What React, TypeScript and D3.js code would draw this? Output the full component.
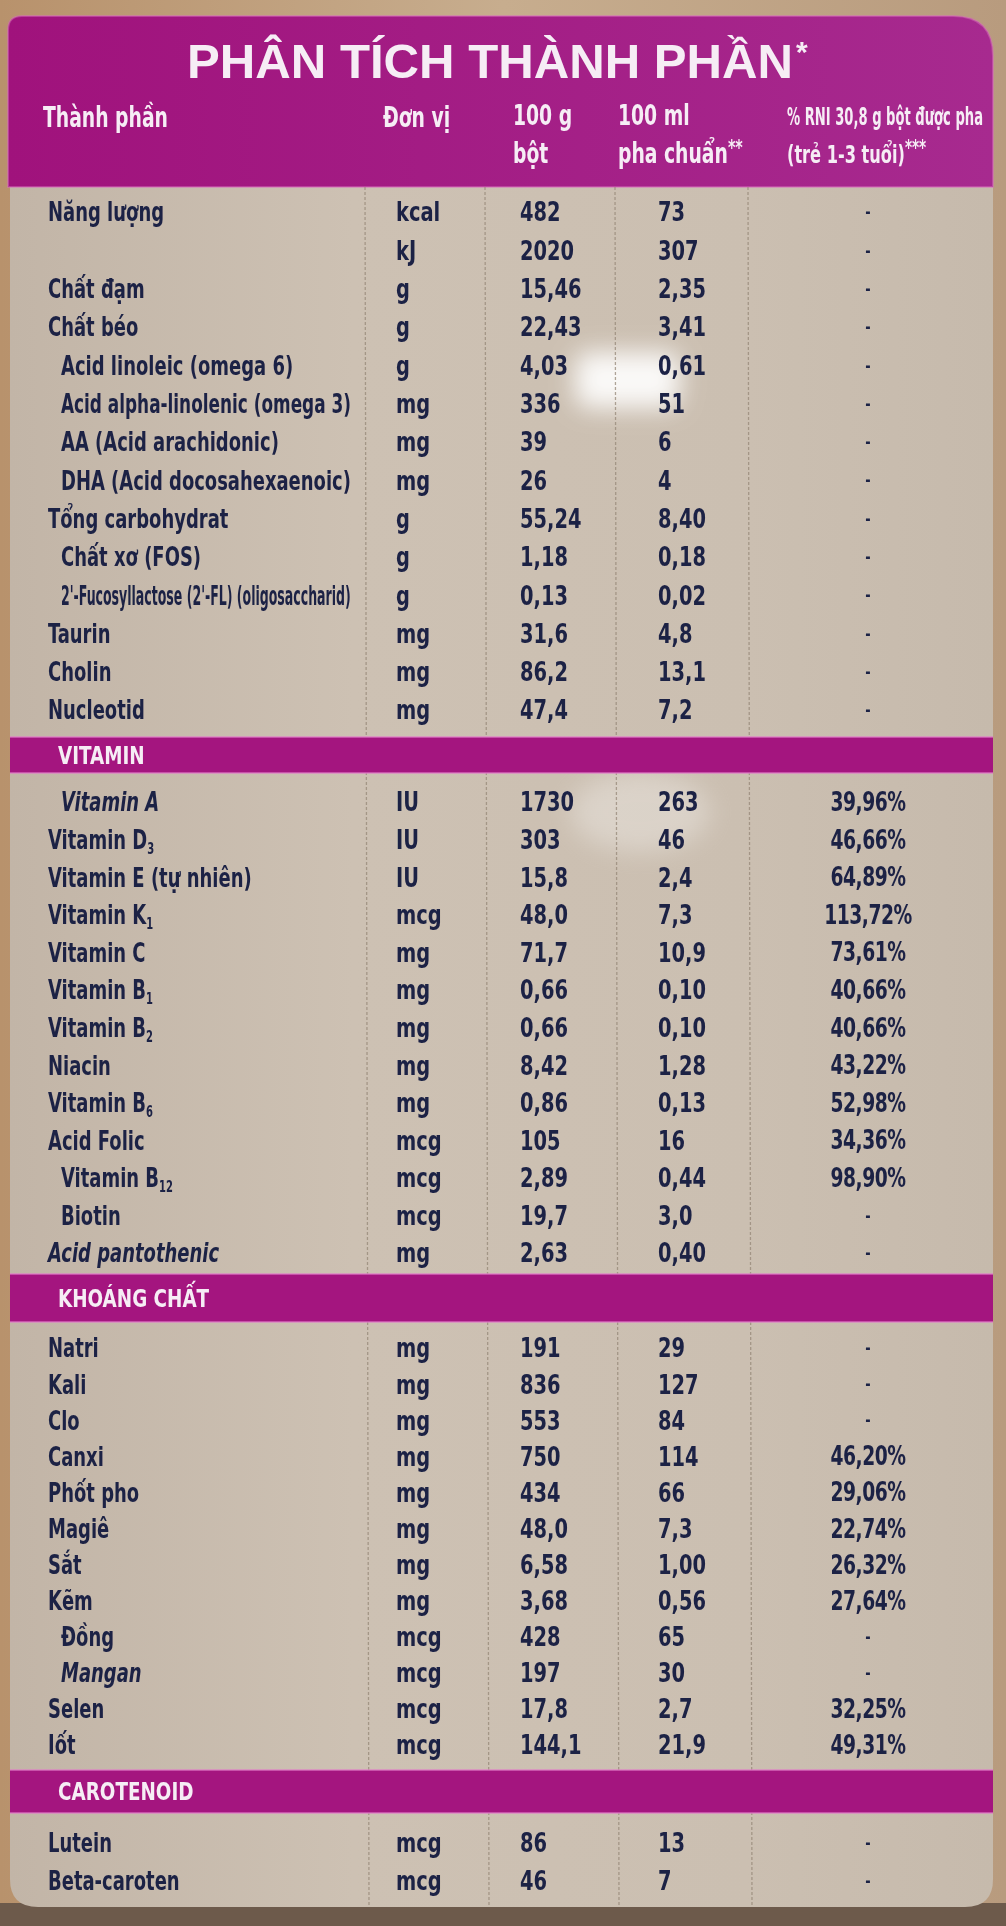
import React, { useEffect, useRef } from 'react'
import { scaleLinear, scaleOrdinal, select } from 'd3'

const mainNames = ['Năng lượng', '', 'Chất đạm', 'Chất béo', 'Acid linoleic (omega 6)', 'Acid alpha-linolenic (omega 3)', 'AA (Acid arachidonic)', 'DHA (Acid docosahexaenoic)', 'Tổng carbohydrat', 'Chất xơ (FOS)', "2'-Fucosyllactose (2'-FL) (oligosaccharid)", 'Taurin', 'Cholin', 'Nucleotid']
const mainIndent = [0, 0, 0, 0, 1, 1, 1, 1, 0, 1, 1, 0, 0, 0]
const mainUnits = ['kcal', 'kJ', 'g', 'g', 'g', 'mg', 'mg', 'mg', 'g', 'g', 'g', 'mg', 'mg', 'mg']
const main100g = ['482', '2020', '15,46', '22,43', '4,03', '336', '39', '26', '55,24', '1,18', '0,13', '31,6', '86,2', '47,4']
const main100ml = ['73', '307', '2,35', '3,41', '0,61', '51', '6', '4', '8,40', '0,18', '0,02', '4,8', '13,1', '7,2']
const mainRni = ['-', '-', '-', '-', '-', '-', '-', '-', '-', '-', '-', '-', '-', '-']

const vitNames = ['Vitamin A', 'Vitamin D', 'Vitamin E (tự nhiên)', 'Vitamin K', 'Vitamin C', 'Vitamin B', 'Vitamin B', 'Niacin', 'Vitamin B', 'Acid Folic', 'Vitamin B', 'Biotin', 'Acid pantothenic']
const vitSubs = ['', '3', '', '1', '', '1', '2', '', '6', '', '12', '', '']
const vitIndent = [1, 0, 0, 0, 0, 0, 0, 0, 0, 0, 1, 1, 0]
const vitUnits = ['IU', 'IU', 'IU', 'mcg', 'mg', 'mg', 'mg', 'mg', 'mg', 'mcg', 'mcg', 'mcg', 'mg']
const vit100g = ['1730', '303', '15,8', '48,0', '71,7', '0,66', '0,66', '8,42', '0,86', '105', '2,89', '19,7', '2,63']
const vit100ml = ['263', '46', '2,4', '7,3', '10,9', '0,10', '0,10', '1,28', '0,13', '16', '0,44', '3,0', '0,40']
const vitRni = ['39,96%', '46,66%', '64,89%', '113,72%', '73,61%', '40,66%', '40,66%', '43,22%', '52,98%', '34,36%', '98,90%', '-', '-']

const minNames = ['Natri', 'Kali', 'Clo', 'Canxi', 'Phốt pho', 'Magiê', 'Sắt', 'Kẽm', 'Đồng', 'Mangan', 'Selen', 'Iốt']
const minIndent = [0, 0, 0, 0, 0, 0, 0, 0, 1, 1, 0, 0]
const minUnits = ['mg', 'mg', 'mg', 'mg', 'mg', 'mg', 'mg', 'mg', 'mcg', 'mcg', 'mcg', 'mcg']
const min100g = ['191', '836', '553', '750', '434', '48,0', '6,58', '3,68', '428', '197', '17,8', '144,1']
const min100ml = ['29', '127', '84', '114', '66', '7,3', '1,00', '0,56', '65', '30', '2,7', '21,9']
const minRni = ['-', '-', '-', '46,20%', '29,06%', '22,74%', '26,32%', '27,64%', '-', '-', '32,25%', '49,31%']

const carNames = ['Lutein', 'Beta-caroten']
const carUnits = ['mcg', 'mcg']
const car100g = ['86', '46']
const car100ml = ['13', '7']
const carRni = ['-', '-']

const columns = ['name', 'unit', 'g', 'ml', 'rni']

// --- layout ---
const W = 1006
const H = 1926
const X0 = 8
const X1 = 993
const TOP = 16
const HEAD_BOTTOM = 187
const BOTTOM = 1907
const MAGENTA = '#a4157f'
const INK = '#1b2145'
const COND = "'DejaVu Sans Condensed', 'DejaVu Sans', sans-serif"
const WIDE = "'Liberation Sans', Arial, 'DejaVu Sans', sans-serif"
const SX_NAME = 0.74 // the label's type is much narrower than anything installed
const SX_NUM = 0.8

const colX = scaleOrdinal<string, number>().domain(columns).range([48, 396, 520, 658, 868])
const dividers = [365, 485, 615, 748]

const sections = [
  { title: null, band: null, rows: [212, 710], names: mainNames, subs: null, indent: mainIndent, units: mainUnits, g: main100g, ml: main100ml, rni: mainRni },
  { title: 'VITAMIN', band: [737, 773], rows: [802, 1253], names: vitNames, subs: vitSubs, indent: vitIndent, units: vitUnits, g: vit100g, ml: vit100ml, rni: vitRni },
  { title: 'KHOÁNG CHẤT', band: [1274, 1322], rows: [1348, 1745], names: minNames, subs: null, indent: minIndent, units: minUnits, g: min100g, ml: min100ml, rni: minRni },
  { title: 'CAROTENOID', band: [1770, 1813], rows: [1843, 1881], names: carNames, subs: null, indent: null, units: carUnits, g: car100g, ml: car100ml, rni: carRni },
]

const slanted = ['Vitamin A', 'Acid pantothenic', 'Mangan']

export default function App() {
  const ref = useRef<SVGSVGElement>(null)

  // texts wider than data-max get squeezed sideways (like the label's type), then shrunk if still too long
  useEffect(() => {
    select(ref.current).selectAll<SVGTextElement, unknown>('text[data-max]').each(function () {
      const max = +(this.getAttribute('data-max') || 0)
      const len = this.getComputedTextLength()
      if (len <= max) return
      const x = +(this.getAttribute('x') || 0)
      const k = Math.max(0.62, max / len)
      select(this).attr('transform', `translate(${x},0) scale(${k},1) translate(${-x},0)`)
      if (len * k > max) {
        const fs = parseFloat(getComputedStyle(this).fontSize)
        select(this).attr('font-size', (fs * max) / (len * k))
      }
    })
  }, [])

  const headerPath = `M${X0},${HEAD_BOTTOM} L${X0},${TOP + 14} Q${X0},${TOP} ${X0 + 14},${TOP} L${X1 - 40},${TOP} Q${X1},${TOP} ${X1},${TOP + 40} L${X1},${HEAD_BOTTOM} Z`
  const bodyPath = `M${X0 + 2},${HEAD_BOTTOM} L${X1},${HEAD_BOTTOM} L${X1},${BOTTOM - 28} Q${X1},${BOTTOM} ${X1 - 28},${BOTTOM} L${X0 + 30},${BOTTOM} Q${X0 + 2},${BOTTOM} ${X0 + 2},${BOTTOM - 28} Z`
  const hx = (x: number) => x / 0.72

  return (
    <svg ref={ref} width={W} height={H} style={{ position: 'absolute', left: 0, top: 0, display: 'block' }}>
      <defs>
        <linearGradient id="bg" x1="0" y1="0" x2="1" y2="0">
          <stop offset="0" stopColor="#b8926c" />
          <stop offset="0.5" stopColor="#c7ad8e" />
          <stop offset="1" stopColor="#b89b7e" />
        </linearGradient>
        <linearGradient id="paper" x1="0" y1="0" x2="1" y2="0">
          <stop offset="0" stopColor="#c2b5a7" />
          <stop offset="0.35" stopColor="#cdc1b3" />
          <stop offset="0.75" stopColor="#cbbfb1" />
          <stop offset="1" stopColor="#c6baac" />
        </linearGradient>
        <linearGradient id="head" x1="0" y1="0" x2="1" y2="0">
          <stop offset="0" stopColor="#a0127c" />
          <stop offset="1" stopColor="#a72a8f" />
        </linearGradient>
        <filter id="blur" x="-50%" y="-50%" width="200%" height="200%">
          <feGaussianBlur stdDeviation="12" />
        </filter>
        <filter id="soft"><feGaussianBlur stdDeviation="0.6" /></filter>
      </defs>

      <rect width={W} height={H} fill="url(#bg)" />
      <rect y={BOTTOM - 4} width={W} height={H - BOTTOM + 4} fill="#6d5a4b" />

      {/* card */}
      <path d={bodyPath} fill="url(#paper)" />
      <path d={headerPath} fill="url(#head)" stroke="#d86cbc" strokeWidth={2} strokeOpacity={0.5} />

      {/* glare */}
      <rect x={575} y={352} width={105} height={56} rx={14} fill="#ffffff" opacity={0.9} filter="url(#blur)" />
      <ellipse cx={640} cy={812} rx={70} ry={40} fill="#ffffff" opacity={0.3} filter="url(#blur)" />

      {/* column dividers */}
      {dividers.map(x => (
        <line key={x} x1={x} x2={x + 4} y1={HEAD_BOTTOM} y2={BOTTOM} stroke="#968878" strokeWidth={1.3} strokeDasharray="3 2" opacity={0.75} />
      ))}

      {/* header */}
      <g fill="#f6edf5" fontWeight="bold" filter="url(#soft)">
        <text x={187} y={78} fontFamily={WIDE} fontSize={49} textLength={606} lengthAdjust="spacingAndGlyphs">PHÂN TÍCH THÀNH PHẦN</text>
        <text x={796} y={62} fontFamily={WIDE} fontSize={30}>*</text>
        <g fontFamily={COND} fontSize={29} transform="scale(0.72,1)">
          <text x={hx(43)} y={127}>Thành phần</text>
          <text x={hx(383)} y={127}>Đơn vị</text>
          <text x={hx(513)} y={125}>100 g</text>
          <text x={hx(513)} y={163}>bột</text>
          <text x={hx(618)} y={125}>100 ml</text>
          <text x={hx(618)} y={163}>pha chuẩn<tspan dy={-8} fontSize={22}>**</tspan></text>
          <text x={hx(787)} y={125} fontSize={25} data-max={196 / 0.72}>% RNI 30,8 g bột được pha</text>
          <text x={hx(787)} y={163} fontSize={25}>(trẻ 1-3 tuổi)<tspan dy={-8} fontSize={21}>***</tspan></text>
        </g>
      </g>

      {sections.map((s, si) => {
        const y = scaleLinear().domain([0, Math.max(1, s.names.length - 1)]).range(s.rows)
        return (
          <g key={si}>
            {s.band && (
              <g>
                <rect x={X0 + 2} y={s.band[0]} width={X1 - X0 - 2} height={s.band[1] - s.band[0]} fill={MAGENTA} />
                <line x1={X0 + 2} x2={X1} y1={s.band[0]} y2={s.band[0]} stroke="#e07cc8" strokeWidth={2} opacity={0.6} />
                <line x1={X0 + 2} x2={X1} y1={s.band[1]} y2={s.band[1]} stroke="#e07cc8" strokeWidth={2} opacity={0.6} />
                <text x={58 / 0.85} y={(s.band[0] + s.band[1]) / 2} dy="0.36em" transform="scale(0.85,1)" fill="#f6edf5" fontFamily={COND} fontWeight="bold" fontSize={24} filter="url(#soft)">{s.title}</text>
              </g>
            )}
            <g fill={INK} fontFamily={COND} fontWeight="bold" filter="url(#soft)">
              <g transform={`scale(${SX_NAME},1)`}>
                {s.names.map((name, i) => {
                  if (!name) return null
                  const x = colX('name') + (s.indent ? s.indent[i] * 13 : 0)
                  return (
                    <text key={i} x={x / SX_NAME} y={y(i)} dy="0.35em" fontSize={27}
                      data-max={(dividers[0] - x - 14) / SX_NAME}
                      fontStyle={slanted.includes(name) ? 'italic' : 'normal'}>
                      {name}
                      {s.subs && s.subs[i] && <tspan fontSize={15} dy={5}>{s.subs[i]}</tspan>}
                    </text>
                  )
                })}
              </g>
              <g transform={`scale(${SX_NUM},1)`}>
                {s.names.map((_, i) => {
                  const cy = y(i)
                  const rni = s.rni[i]
                  return (
                    <g key={i}>
                      <text x={colX('unit') / SX_NUM} y={cy} dy="0.35em" fontSize={27}>{s.units[i]}</text>
                      <text x={colX('g') / SX_NUM} y={cy} dy="0.35em" fontSize={27}>{s.g[i]}</text>
                      <text x={colX('ml') / SX_NUM} y={cy} dy="0.35em" fontSize={27}>{s.ml[i]}</text>
                      {rni === '-'
                        ? <text x={colX('rni') / SX_NUM} y={cy} dy="0.35em" fontSize={18} textAnchor="middle">-</text>
                        : <text x={colX('rni') / SX_NUM} y={cy} dy="0.35em" fontSize={26} letterSpacing={-0.6} textAnchor="middle">{rni}</text>}
                    </g>
                  )
                })}
              </g>
            </g>
          </g>
        )
      })}
    </svg>
  )
}
